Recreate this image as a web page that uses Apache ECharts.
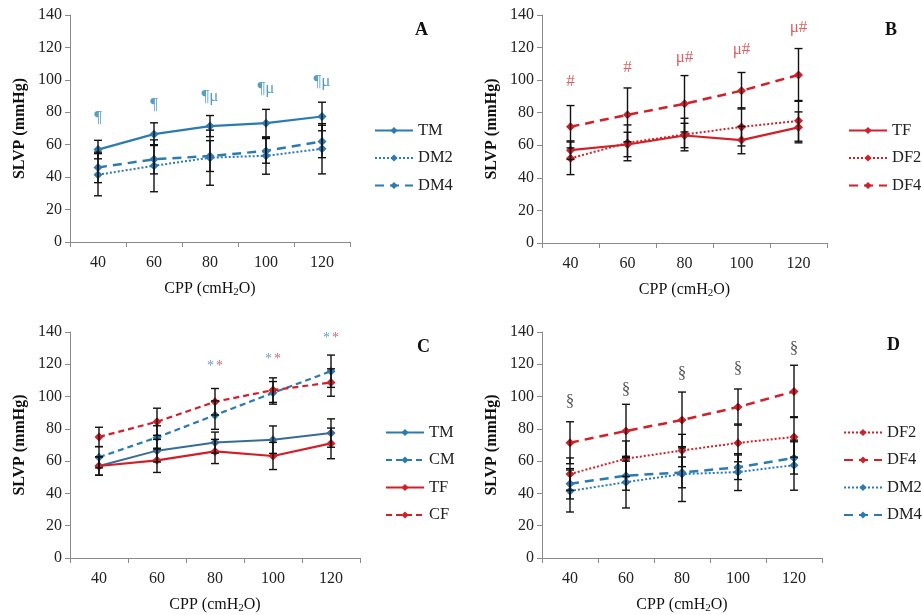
<!DOCTYPE html>
<html>
<head>
<meta charset="utf-8">
<script src="https://cdn.jsdelivr.net/npm/echarts@6/dist/echarts.min.js"></script>
<style>
  html, body { margin: 0; padding: 0; background: #fff; }
  #main { width: 922px; height: 615px; }
</style>
</head>
<body>
<div id="main"></div>
<script>
// categories: CPP (cmH2O)
var cpp = ['40', '60', '80', '100', '120'];

// means (SLVP, mmHg) and SD
var TM = [57, 66.5, 71.5, 73.3, 77.4];
var TM_sd = [5.7, 7, 6.5, 8.5, 8.8];
var DM2 = [41.5, 47, 52, 53.2, 57.5];
var DM2_sd = [13, 16, 17, 11.4, 15.5];
var DM4 = [46, 51, 53, 56.2, 62];
var DM4_sd = [9.4, 9, 9.5, 7.6, 10];
var TF = [57, 60.5, 66, 63.2, 71];
var TF_sd = [5.7, 7.5, 7.5, 8.4, 9.5];
var DF2 = [52, 61.5, 66.6, 71.3, 75];
var DF2_sd = [10, 11, 10, 11.7, 12.5];
var DF4 = [71.4, 78.7, 85.5, 93.5, 103.2];
var DF4_sd = [13, 16.5, 17.3, 11.2, 16.2];
var CM = [62.4, 74.7, 88.5, 102.3, 115.7];
var CM_sd = [6.6, 7.2, 8.8, 7, 10];
var CF = [75, 84.4, 96.8, 104, 108.7];
var CF_sd = [6, 8.4, 8.2, 7.6, 8.5];

// significance marks
var markA = ['¶', '¶', '¶μ', '¶μ', '¶μ'];
var markA_y = [77, 85, 90, 94.5, 99];
var markB = ['#', '#', 'μ#', 'μ#', 'μ#'];
var markB_y = [99, 107.5, 114, 118.5, 132];
var markC = ['', '', '**', '**', '**'];
var markC_y = [0, 0, 119, 123, 136];
var markD = ['§', '§', '§', '§', '§'];
var markD_y = [97, 104.5, 114.5, 117.5, 130];

var BLUE = '#2b7bb0';
var BLUE_DARK = '#3a6b98';
var RED = '#d21f28';
var RED_SOFT = '#d43c3c';
var FONT = 'Liberation Serif';

var chart = echarts.init(document.getElementById('main'));

var grids = [
  { left: 70, top: 15, width: 280, height: 227 },
  { left: 542, top: 15, width: 285, height: 228 },
  { left: 70, top: 332, width: 290, height: 226 },
  { left: 542, top: 332, width: 280, height: 226 }
];

function xAx(i) {
  return {
    type: 'category', gridIndex: i, data: cpp,
    name: '{a|CPP (cmH}{s|2}{a|O)}', nameLocation: 'middle', nameGap: 37,
    nameTextStyle: {
      rich: {
        a: { fontFamily: FONT, fontSize: 16, color: '#111' },
        s: { fontFamily: FONT, fontSize: 11, color: '#111', padding: [8, 0, 0, 0] }
      }
    },
    axisLine: { lineStyle: { color: '#8a8a8a', width: 1 } },
    axisTick: { show: true, length: 5, lineStyle: { color: '#8a8a8a' } },
    axisLabel: { fontFamily: FONT, fontSize: 16, color: '#222', margin: 13 }
  };
}
function yAx(i) {
  return {
    type: 'value', gridIndex: i, min: 0, max: 140, interval: 20,
    name: 'SLVP (mmHg)', nameLocation: 'middle', nameGap: 42,
    nameTextStyle: { fontFamily: FONT, fontSize: 16, fontWeight: 'bold', color: '#111' },
    axisLine: { show: true, lineStyle: { color: '#8a8a8a', width: 1 } },
    axisTick: { show: true, length: 5, inside: false, lineStyle: { color: '#8a8a8a' } },
    axisLabel: { fontFamily: FONT, fontSize: 16, color: '#222', margin: 8 },
    splitLine: { show: false }
  };
}

function lineS(i, name, vals, color, type, width) {
  return {
    type: 'line', name: name, xAxisIndex: i, yAxisIndex: i, data: vals,
    symbol: 'diamond', symbolSize: 9, color: color,
    itemStyle: { color: color },
    lineStyle: { color: color, type: type, width: width || 2 },
    z: 2, animation: false
  };
}

function errS(i, vals, sd) {
  return {
    type: 'custom', xAxisIndex: i, yAxisIndex: i, silent: true, z: 3, animation: false,
    data: vals.map(function (m, k) { return [k, m - sd[k], m + sd[k]]; }),
    encode: { x: 0, y: [1, 2] },
    renderItem: function (params, api) {
      var x = api.value(0);
      var lo = api.coord([x, api.value(1)]);
      var hi = api.coord([x, api.value(2)]);
      var w = 4;
      var st = { stroke: '#111', lineWidth: 1.4 };
      return {
        type: 'group', children: [
          { type: 'line', shape: { x1: lo[0], y1: lo[1], x2: hi[0], y2: hi[1] }, style: st },
          { type: 'line', shape: { x1: lo[0] - w, y1: lo[1], x2: lo[0] + w, y2: lo[1] }, style: st },
          { type: 'line', shape: { x1: hi[0] - w, y1: hi[1], x2: hi[0] + w, y2: hi[1] }, style: st }
        ]
      };
    }
  };
}

function markS(i, labels, ys, color, rich) {
  var data = [];
  for (var k = 0; k < labels.length; k++) {
    if (labels[k]) data.push({ name: labels[k], value: [k, ys[k]] });
  }
  return {
    type: 'scatter', xAxisIndex: i, yAxisIndex: i, symbolSize: 0, silent: true, animation: false,
    data: data,
    label: {
      show: true, position: 'inside', fontFamily: FONT, fontSize: 17, color: color,
      formatter: rich ? '{b|*}{r|*}' : '{b}',
      rich: rich || {}
    }
  };
}

var series = [
  // A
  lineS(0, 'TM', TM, BLUE, 'solid', 2.2),
  lineS(0, 'DM2', DM2, BLUE, 'dotted', 2),
  lineS(0, 'DM4', DM4, BLUE, [9, 6], 2.5),
  errS(0, TM, TM_sd), errS(0, DM2, DM2_sd), errS(0, DM4, DM4_sd),
  markS(0, markA, markA_y, '#2f86b3'),
  // B
  lineS(1, 'TF', TF, RED, 'solid', 2.2),
  lineS(1, 'DF2', DF2, RED, 'dotted', 2),
  lineS(1, 'DF4', DF4, RED, [9, 6], 2.5),
  errS(1, TF, TF_sd), errS(1, DF2, DF2_sd), errS(1, DF4, DF4_sd),
  markS(1, markB, markB_y, RED_SOFT),
  // C
  lineS(2, 'TM', TM, BLUE_DARK, 'solid', 2),
  lineS(2, 'CM', CM, BLUE, [6, 4], 2.2),
  lineS(2, 'TF', TF, RED, 'solid', 2.2),
  lineS(2, 'CF', CF, RED, [6, 4], 2.2),
  errS(2, TM, TM_sd), errS(2, CM, CM_sd), errS(2, TF, TF_sd), errS(2, CF, CF_sd),
  markS(2, markC, markC_y, '#555', {
    b: { fontFamily: FONT, fontSize: 14, color: '#3f84ae', padding: [0, 2, 0, 0] },
    r: { fontFamily: FONT, fontSize: 14, color: '#cc3f48' }
  }),
  // D
  lineS(3, 'DF2', DF2, RED, 'dotted', 2),
  lineS(3, 'DF4', DF4, RED, [9, 6], 2.5),
  lineS(3, 'DM2', DM2, BLUE, 'dotted', 2),
  lineS(3, 'DM4', DM4, BLUE, [9, 6], 2.5),
  errS(3, DF2, DF2_sd), errS(3, DF4, DF4_sd), errS(3, DM2, DM2_sd), errS(3, DM4, DM4_sd),
  markS(3, markD, markD_y, '#2a2a2a')
];

function leg(names, left, top) {
  return {
    orient: 'vertical', left: left, top: top, data: names,
    itemWidth: 38, itemHeight: 9, itemGap: 10.5, selectedMode: false,
    textStyle: { fontFamily: FONT, fontSize: 16.5, color: '#222', lineHeight: 17 }
  };
}

chart.setOption({
  animation: false,
  backgroundColor: '#fff',
  title: [
    { text: 'A', left: 410, top: 16, textStyle: { fontFamily: FONT, fontSize: 18, fontWeight: 'bold', color: '#111' } },
    { text: 'B', left: 880, top: 16, textStyle: { fontFamily: FONT, fontSize: 18, fontWeight: 'bold', color: '#111' } },
    { text: 'C', left: 412, top: 333, textStyle: { fontFamily: FONT, fontSize: 18, fontWeight: 'bold', color: '#111' } },
    { text: 'D', left: 882, top: 331, textStyle: { fontFamily: FONT, fontSize: 18, fontWeight: 'bold', color: '#111' } }
  ],
  legend: [
    leg(['TM', 'DM2', 'DM4'], 369, 117),
    leg(['TF', 'DF2', 'DF4'], 843, 117),
    leg(['TM', 'CM', 'TF', 'CF'], 380, 419),
    leg(['DF2', 'DF4', 'DM2', 'DM4'], 838, 419)
  ],
  grid: grids,
  xAxis: [xAx(0), xAx(1), xAx(2), xAx(3)],
  yAxis: [yAx(0), yAx(1), yAx(2), yAx(3)],
  series: series
});
</script>
</body>
</html>
